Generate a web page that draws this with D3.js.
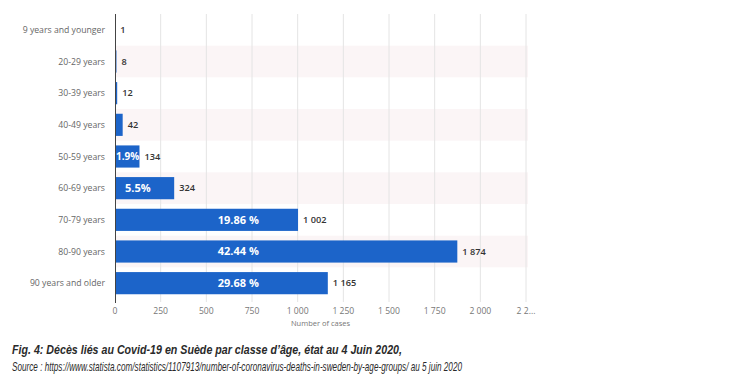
<!DOCTYPE html>
<html><head><meta charset="utf-8">
<script src="https://cdn.jsdelivr.net/npm/d3@7"></script>
<style>body{margin:0;background:#fff}svg{display:block}</style>
</head><body>
<svg id="c" width="740" height="383"></svg>
<script>
const categories = ["9 years and younger","20-29 years","30-39 years","40-49 years","50-59 years","60-69 years","70-79 years","80-90 years","90 years and older"];
const values = [1, 8, 12, 42, 134, 324, 1002, 1874, 1165];
const shareLabels = ["", "", "", "", "1.9%", "5.5%", "19.86 %", "42.44 %", "29.68 %"];
const tickValues = [0, 250, 500, 750, 1000, 1250, 1500, 1750, 2000, 2250];
const tickLabels = ["0","250","500","750","1 000","1 250","1 500","1 750","2 000","2 2..."];
const axisTitle = "Number of cases";
const captionLines = ["Fig. 4: Décès liés au Covid-19 en Suède par classe d’âge, état au 4 Juin 2020,",
  "Source : https://www.statista.com/statistics/1107913/number-of-coronavirus-deaths-in-sweden-by-age-groups/ au 5 juin 2020"];

const svg = d3.select("#c");
const m = {left:115, right:526, top:14, bottom:299};
const x = d3.scaleLinear().domain([0,2250]).range([m.left, m.right]);
const y = d3.scaleBand().domain(categories).range([m.top, m.bottom]).paddingInner(0.3).paddingOuter(0.15);
const step = y.step();

// alternating bands
svg.append("g").selectAll("rect").data(categories).join("rect")
  .attr("x", m.left).attr("width", m.right - m.left + 2)
  .attr("y", d => y(d) + y.bandwidth()/2 - step/2).attr("height", step)
  .attr("fill", (d,i) => i % 2 ? "#fbf5f6" : "none");

// grid
svg.append("g").selectAll("line").data(tickValues.slice(1)).join("line")
  .attr("x1", d => x(d)).attr("x2", d => x(d)).attr("y1", m.top).attr("y2", m.bottom + 3)
  .attr("stroke", "#e4e4e4").attr("stroke-width", 1);

// bars
svg.append("g").selectAll("rect").data(values).join("rect")
  .attr("x", x(0)).attr("y", (d,i) => y(categories[i]))
  .attr("width", d => x(d) - x(0)).attr("height", y.bandwidth())
  .attr("fill", "#1c64c9");

// y axis line
svg.append("line").attr("x1", m.left + 0.5).attr("x2", m.left + 0.5)
  .attr("y1", m.top).attr("y2", m.bottom + 4).attr("stroke", "#444").attr("stroke-width", 1);

// category labels
svg.append("g").selectAll("text").data(categories).join("text")
  .attr("x", m.left - 10).attr("y", d => y(d) + y.bandwidth()/2)
  .attr("dy", "0.35em").attr("text-anchor", "end")
  .attr("font-family", "Open Sans, sans-serif").attr("font-size", 8.7)
  .attr("fill", "#666").text(d => d);

// value labels
const fmt = v => d3.format(",")(v).replace(/,/g, " ");
svg.append("g").selectAll("text").data(values).join("text")
  .attr("x", d => x(d) + 5).attr("y", (d,i) => y(categories[i]) + y.bandwidth()/2)
  .attr("dy", "0.35em").attr("font-family", "Open Sans, sans-serif").attr("font-size", 9.2)
  .attr("font-weight", 600).attr("fill", "#333").text(fmt);

// share labels
const w = d => x(d) - x(0);
svg.append("g").selectAll("text").data(values).join("text")
  .attr("x", d => w(d) > 120 ? x(675) : w(d) < 40 ? x(0) + 1 : x(0) + 10)
  .attr("y", (d,i) => y(categories[i]) + y.bandwidth()/2)
  .attr("dy", "0.36em").attr("text-anchor", d => w(d) > 120 ? "middle" : "start")
  .attr("font-family", "Open Sans, sans-serif").attr("font-size", d => w(d) < 40 ? 10 : 11)
  .attr("font-weight", 700).attr("fill", "#fff").text((d,i) => shareLabels[i]);

// x tick labels
svg.append("g").selectAll("text").data(tickValues).join("text")
  .attr("x", d => x(d)).attr("y", m.bottom + 15).attr("text-anchor", "middle")
  .attr("font-family", "Open Sans, sans-serif").attr("font-size", 8.6)
  .attr("fill", "#777").text((d,i) => tickLabels[i]);

svg.append("text").attr("x", (m.left + m.right)/2).attr("y", m.bottom + 27)
  .attr("text-anchor", "middle").attr("font-family", "Open Sans, sans-serif")
  .attr("font-size", 7.5).attr("fill", "#777").text(axisTitle);

// caption
svg.append("text").attr("x", 12).attr("y", 354)
  .attr("font-family", "Liberation Sans Narrow, Liberation Sans, sans-serif").attr("font-size", 13)
  .attr("font-style", "italic").attr("font-weight", 700).attr("fill", "#2a2a2a")
  .attr("textLength", 390).attr("lengthAdjust", "spacingAndGlyphs").text(captionLines[0]);
svg.append("text").attr("x", 12).attr("y", 371)
  .attr("font-family", "Liberation Sans Narrow, Liberation Sans, sans-serif").attr("font-size", 13)
  .attr("font-style", "italic").attr("fill", "#2a2a2a")
  .attr("textLength", 450).attr("lengthAdjust", "spacingAndGlyphs").text(captionLines[1]);
</script>
</body></html>
